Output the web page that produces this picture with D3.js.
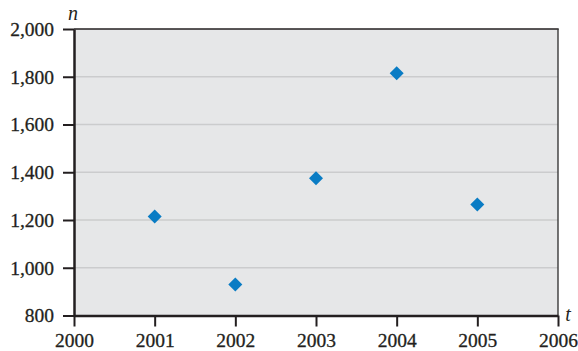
<!DOCTYPE html>
<html>
<head>
<meta charset="utf-8">
<script src="https://cdn.jsdelivr.net/npm/d3@7"></script>
<style>
  html, body { margin: 0; padding: 0; background: #ffffff; }
  svg { display: block; }
  text { font-family: "Liberation Serif", "Times New Roman", serif; fill: #231f20; }
</style>
</head>
<body>
<svg id="chart" width="578" height="351"></svg>
<script>
// Data
const years = [2001, 2002, 2003, 2004, 2005];
const values = [1215, 930, 1375, 1815, 1265];
const xTicks = [2000, 2001, 2002, 2003, 2004, 2005, 2006];
const yTicks = [800, 1000, 1200, 1400, 1600, 1800, 2000];
const xLabel = "t";
const yLabel = "n";

const svg = d3.select("#chart");
const mLeft = 74, mRight = 558, mTop = 29, mBottom = 315.5;

const x = d3.scaleLinear().domain([2000, 2006]).range([mLeft, mRight]);
const y = d3.scaleLinear().domain([800, 2000]).range([mBottom, mTop]);

// Plot background
svg.append("rect")
  .attr("x", mLeft).attr("y", mTop)
  .attr("width", mRight - mLeft).attr("height", mBottom - mTop)
  .attr("fill", "#e6e7e8");

// Gridlines
svg.append("g").selectAll("line")
  .data(yTicks.filter(d => d > 800 && d < 2000))
  .join("line")
  .attr("x1", mLeft).attr("x2", mRight)
  .attr("y1", d => y(d)).attr("y2", d => y(d))
  .attr("stroke", "#cbcccd").attr("stroke-width", 1.6);

// Top and right frame
svg.append("line")
  .attr("x1", mLeft).attr("x2", mRight + 0.7)
  .attr("y1", mTop).attr("y2", mTop)
  .attr("stroke", "#231f20").attr("stroke-width", 1.6);
svg.append("line")
  .attr("x1", mRight).attr("x2", mRight)
  .attr("y1", mTop).attr("y2", mBottom)
  .attr("stroke", "#3a3a3a").attr("stroke-width", 1.4);

// Axes
const xAxis = d3.axisBottom(x).tickValues(xTicks).tickFormat(d3.format("d"))
  .tickSizeInner(11).tickSizeOuter(0).tickPadding(7);
const yAxis = d3.axisLeft(y).tickValues(yTicks).tickFormat(d3.format(","))
  .tickSizeInner(11).tickSizeOuter(0).tickPadding(9);

const gx = svg.append("g").attr("transform", `translate(0,${mBottom})`).call(xAxis);
const gy = svg.append("g").attr("transform", `translate(${mLeft},0)`).call(yAxis);

[gx, gy].forEach(g => {
  g.attr("font-family", "Liberation Serif").attr("font-size", 19.5);
  g.select(".domain").attr("stroke", "#231f20").attr("stroke-width", 2.5);
  g.selectAll(".tick line").attr("stroke", "#231f20").attr("stroke-width", 2);
  g.selectAll(".tick text").attr("fill", "#231f20")
    .attr("stroke", "#231f20").attr("stroke-width", 0.3);
});

// Axis labels
svg.append("text").attr("x", 73).attr("y", 20)
  .attr("text-anchor", "middle")
  .style("font-style", "italic").style("font-size", "20px")
  .text(yLabel);
svg.append("text").attr("x", 568).attr("y", 321)
  .attr("text-anchor", "middle")
  .style("font-style", "italic").style("font-size", "20px")
  .text(xLabel);

// Points
const diamond = d3.symbol().type(d3.symbolSquare).size(98);
svg.append("g").selectAll("path")
  .data(years.map((d, i) => ({ t: d, n: values[i] })))
  .join("path")
  .attr("d", diamond)
  .attr("transform", d => `translate(${x(d.t)},${y(d.n)}) rotate(45)`)
  .attr("fill", "#0a7cc4");
</script>
</body>
</html>
